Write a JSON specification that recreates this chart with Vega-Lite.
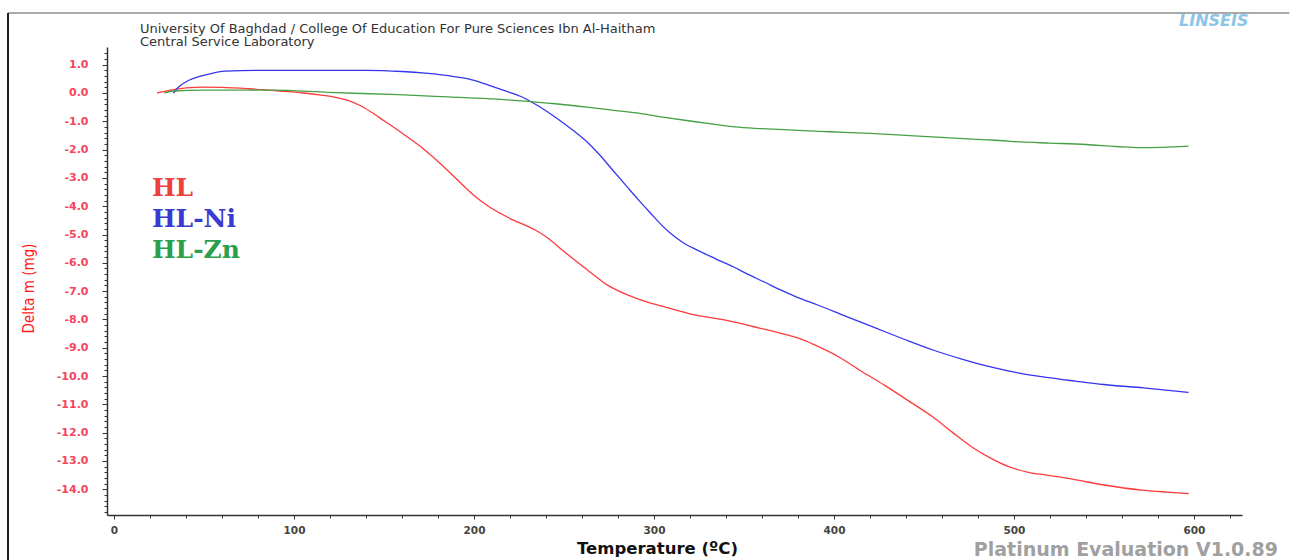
{
  "$schema": "https://vega.github.io/schema/vega-lite/v6.json",
  "width": 1135,
  "height": 468,
  "autosize": {"type": "none"},
  "padding": {"left": 107, "top": 47, "right": 48, "bottom": 45},
  "background": "white",
  "config": {"view": {"stroke": null}, "font": "DejaVu Sans"},
  "title": {
    "text": ["University Of Baghdad / College Of Education For Pure Sciences Ibn Al-Haitham", "Central Service Laboratory"],
    "anchor": "start",
    "frame": "group",
    "dx": 33,
    "dy": 40,
    "offset": 3,
    "fontSize": 13,
    "fontWeight": "normal",
    "font": "DejaVu Sans",
    "color": "#333333",
    "lineHeight": 13
  },
  "data": {
    "values": [
      {"s": "HL", "T": 24, "m": 0.0},
      {"s": "HL", "T": 30, "m": 0.08},
      {"s": "HL", "T": 40, "m": 0.18},
      {"s": "HL", "T": 50, "m": 0.21},
      {"s": "HL", "T": 60, "m": 0.2},
      {"s": "HL", "T": 75, "m": 0.15},
      {"s": "HL", "T": 92, "m": 0.07},
      {"s": "HL", "T": 105, "m": 0.0},
      {"s": "HL", "T": 114, "m": -0.07},
      {"s": "HL", "T": 122, "m": -0.14},
      {"s": "HL", "T": 130, "m": -0.26},
      {"s": "HL", "T": 137, "m": -0.45},
      {"s": "HL", "T": 143, "m": -0.68},
      {"s": "HL", "T": 150, "m": -0.98},
      {"s": "HL", "T": 157, "m": -1.28},
      {"s": "HL", "T": 164, "m": -1.6},
      {"s": "HL", "T": 172, "m": -1.98},
      {"s": "HL", "T": 180, "m": -2.42},
      {"s": "HL", "T": 190, "m": -3.02},
      {"s": "HL", "T": 200, "m": -3.62},
      {"s": "HL", "T": 208, "m": -4.0},
      {"s": "HL", "T": 219, "m": -4.4},
      {"s": "HL", "T": 234, "m": -4.84},
      {"s": "HL", "T": 241, "m": -5.12},
      {"s": "HL", "T": 250, "m": -5.6},
      {"s": "HL", "T": 263, "m": -6.25},
      {"s": "HL", "T": 274, "m": -6.78},
      {"s": "HL", "T": 287, "m": -7.18},
      {"s": "HL", "T": 296, "m": -7.38},
      {"s": "HL", "T": 305, "m": -7.54},
      {"s": "HL", "T": 320, "m": -7.8},
      {"s": "HL", "T": 339, "m": -8.02},
      {"s": "HL", "T": 355, "m": -8.25},
      {"s": "HL", "T": 370, "m": -8.48},
      {"s": "HL", "T": 381, "m": -8.68},
      {"s": "HL", "T": 392, "m": -8.98},
      {"s": "HL", "T": 402, "m": -9.3},
      {"s": "HL", "T": 415, "m": -9.82},
      {"s": "HL", "T": 428, "m": -10.32},
      {"s": "HL", "T": 441, "m": -10.86},
      {"s": "HL", "T": 455, "m": -11.45},
      {"s": "HL", "T": 466, "m": -12.0},
      {"s": "HL", "T": 476, "m": -12.48},
      {"s": "HL", "T": 487, "m": -12.9},
      {"s": "HL", "T": 497, "m": -13.2},
      {"s": "HL", "T": 508, "m": -13.4},
      {"s": "HL", "T": 518, "m": -13.5},
      {"s": "HL", "T": 533, "m": -13.65},
      {"s": "HL", "T": 550, "m": -13.85},
      {"s": "HL", "T": 571, "m": -14.03},
      {"s": "HL", "T": 585, "m": -14.1},
      {"s": "HL", "T": 597, "m": -14.15},
      {"s": "HL-Ni", "T": 33, "m": 0.0},
      {"s": "HL-Ni", "T": 36, "m": 0.22},
      {"s": "HL-Ni", "T": 42, "m": 0.46},
      {"s": "HL-Ni", "T": 51, "m": 0.64},
      {"s": "HL-Ni", "T": 62, "m": 0.77},
      {"s": "HL-Ni", "T": 80, "m": 0.8},
      {"s": "HL-Ni", "T": 140, "m": 0.8},
      {"s": "HL-Ni", "T": 160, "m": 0.76},
      {"s": "HL-Ni", "T": 173, "m": 0.7},
      {"s": "HL-Ni", "T": 189, "m": 0.58},
      {"s": "HL-Ni", "T": 200, "m": 0.45},
      {"s": "HL-Ni", "T": 208, "m": 0.28},
      {"s": "HL-Ni", "T": 217, "m": 0.08},
      {"s": "HL-Ni", "T": 227, "m": -0.15},
      {"s": "HL-Ni", "T": 236, "m": -0.47},
      {"s": "HL-Ni", "T": 246, "m": -0.89},
      {"s": "HL-Ni", "T": 255, "m": -1.32},
      {"s": "HL-Ni", "T": 264, "m": -1.8},
      {"s": "HL-Ni", "T": 270, "m": -2.2},
      {"s": "HL-Ni", "T": 277, "m": -2.72},
      {"s": "HL-Ni", "T": 285, "m": -3.31},
      {"s": "HL-Ni", "T": 291, "m": -3.75},
      {"s": "HL-Ni", "T": 298, "m": -4.24},
      {"s": "HL-Ni", "T": 304, "m": -4.65},
      {"s": "HL-Ni", "T": 309, "m": -4.95},
      {"s": "HL-Ni", "T": 316, "m": -5.28},
      {"s": "HL-Ni", "T": 324, "m": -5.55},
      {"s": "HL-Ni", "T": 334, "m": -5.85},
      {"s": "HL-Ni", "T": 344, "m": -6.14},
      {"s": "HL-Ni", "T": 352, "m": -6.4},
      {"s": "HL-Ni", "T": 361, "m": -6.67},
      {"s": "HL-Ni", "T": 370, "m": -6.95},
      {"s": "HL-Ni", "T": 379, "m": -7.2},
      {"s": "HL-Ni", "T": 391, "m": -7.49},
      {"s": "HL-Ni", "T": 407, "m": -7.9},
      {"s": "HL-Ni", "T": 423, "m": -8.3},
      {"s": "HL-Ni", "T": 439, "m": -8.7},
      {"s": "HL-Ni", "T": 455, "m": -9.08},
      {"s": "HL-Ni", "T": 471, "m": -9.4},
      {"s": "HL-Ni", "T": 487, "m": -9.68},
      {"s": "HL-Ni", "T": 503, "m": -9.9},
      {"s": "HL-Ni", "T": 518, "m": -10.05},
      {"s": "HL-Ni", "T": 534, "m": -10.18},
      {"s": "HL-Ni", "T": 550, "m": -10.3},
      {"s": "HL-Ni", "T": 572, "m": -10.42},
      {"s": "HL-Ni", "T": 597, "m": -10.58},
      {"s": "HL-Zn", "T": 28, "m": 0.0},
      {"s": "HL-Zn", "T": 33, "m": 0.07},
      {"s": "HL-Zn", "T": 50, "m": 0.1},
      {"s": "HL-Zn", "T": 88, "m": 0.1},
      {"s": "HL-Zn", "T": 119, "m": 0.02},
      {"s": "HL-Zn", "T": 158, "m": -0.06},
      {"s": "HL-Zn", "T": 186, "m": -0.14},
      {"s": "HL-Zn", "T": 213, "m": -0.22},
      {"s": "HL-Zn", "T": 224, "m": -0.27},
      {"s": "HL-Zn", "T": 245, "m": -0.38},
      {"s": "HL-Zn", "T": 263, "m": -0.5},
      {"s": "HL-Zn", "T": 280, "m": -0.63},
      {"s": "HL-Zn", "T": 292, "m": -0.72},
      {"s": "HL-Zn", "T": 305, "m": -0.85},
      {"s": "HL-Zn", "T": 320, "m": -0.99},
      {"s": "HL-Zn", "T": 335, "m": -1.12},
      {"s": "HL-Zn", "T": 345, "m": -1.2},
      {"s": "HL-Zn", "T": 360, "m": -1.26},
      {"s": "HL-Zn", "T": 380, "m": -1.32},
      {"s": "HL-Zn", "T": 398, "m": -1.37},
      {"s": "HL-Zn", "T": 420, "m": -1.43},
      {"s": "HL-Zn", "T": 440, "m": -1.5},
      {"s": "HL-Zn", "T": 460, "m": -1.57},
      {"s": "HL-Zn", "T": 477, "m": -1.63},
      {"s": "HL-Zn", "T": 490, "m": -1.67},
      {"s": "HL-Zn", "T": 504, "m": -1.73},
      {"s": "HL-Zn", "T": 520, "m": -1.77},
      {"s": "HL-Zn", "T": 540, "m": -1.82},
      {"s": "HL-Zn", "T": 557, "m": -1.89},
      {"s": "HL-Zn", "T": 570, "m": -1.93},
      {"s": "HL-Zn", "T": 582, "m": -1.92},
      {"s": "HL-Zn", "T": 597, "m": -1.88}
    ]
  },
  "layer": [
    {
      "mark": {"type": "line", "strokeWidth": 1.3, "interpolate": "monotone", "clip": true},
      "encoding": {
        "x": {
          "field": "T", "type": "quantitative",
          "scale": {"domain": [-3.9, 626.7], "nice": false, "zero": false},
          "axis": {
            "orient": "bottom",
            "values": [0, 100, 200, 300, 400, 500, 600],
            "grid": false,
            "domainColor": "#333333", "domainWidth": 1.5,
            "tickColor": "#333333", "tickSize": 4, "tickWidth": 1,
            "labelPadding": 6, "labelFontSize": 10.5, "labelFontWeight": "bold", "labelColor": "#444444",
            "labelFont": "DejaVu Sans",
            "title": "Temperature (ºC)",
            "titleFont": "DejaVu Sans", "titleFontSize": 16.5, "titleFontWeight": 600, "titleColor": "#111111",
            "titleX": 550, "titleY": 33, "titleBaseline": "middle", "titleAlign": "center"
          }
        },
        "y": {
          "field": "m", "type": "quantitative",
          "scale": {"domain": [-14.91, 1.625], "nice": false, "zero": false},
          "axis": {
            "orient": "left",
            "values": [-14, -13, -12, -11, -10, -9, -8, -7, -6, -5, -4, -3, -2, -1, 0, 1],
            "labelExpr": "replace(format(datum.value, '.1f'), '\u2212', '-')",
            "grid": false,
            "domainColor": "#333333", "domainWidth": 1.5,
            "tickColor": "#333333", "tickSize": 5, "tickWidth": 1,
            "labelPadding": 14, "labelFontSize": 11, "labelFontWeight": "bold", "labelColor": "#f5455c",
            "labelFont": "DejaVu Sans",
            "title": "Delta m (mg)",
            "titleFont": "DejaVu Sans Condensed", "titleFontSize": 15, "titleFontWeight": "normal", "titleColor": "#ff1a1a",
            "titleX": -79, "titleY": 241, "titleAngle": -90, "titleBaseline": "middle", "titleAlign": "center"
          }
        },
        "color": {
          "field": "s", "type": "nominal",
          "scale": {"domain": ["HL", "HL-Ni", "HL-Zn"], "range": ["#ff3a3a", "#3535f0", "#45a045"]},
          "legend": {
            "orient": "none", "legendX": 20, "legendY": 128,
            "title": null,
            "symbolSize": 0, "symbolStrokeWidth": 0, "symbolOpacity": 0, "labelOffset": 0,
            "labelFont": "DejaVu Serif", "labelFontSize": 25, "labelFontWeight": "bold",
            "rowPadding": 5,
            "encode": {
              "labels": {
                "update": {
                  "fill": {"signal": "datum.value === 'HL' ? '#ee3f3f' : datum.value === 'HL-Ni' ? '#3a3ad2' : '#2c9e4c'"}
                }
              }
            }
          }
        }
      }
    },
    {
      "data": {"values": [{"a": 1}]},
      "mark": {"type": "rule", "opacity": 0},
      "encoding": {
        "x": {
          "datum": 0, "type": "quantitative",
          "scale": {"domain": [-3.9, 626.7], "nice": false, "zero": false},
          "axis": {
            "orient": "bottom",
            "values": [20, 40, 60, 80, 120, 140, 160, 180, 220, 240, 260, 280, 320, 340, 360, 380, 420, 440, 460, 480, 520, 540, 560, 580, 620],
            "labels": false, "domain": false, "grid": false, "title": null,
            "tickColor": "#333333", "tickSize": 3, "tickWidth": 1
          }
        },
        "y": {
          "datum": 0, "type": "quantitative",
          "scale": {"domain": [-14.91, 1.625], "nice": false, "zero": false},
          "axis": {
            "orient": "left",
            "values": [-14.8, -14.6, -14.4, -14.2, -13.8, -13.6, -13.4, -13.2, -12.8, -12.6, -12.4, -12.2, -11.8, -11.6, -11.4, -11.2, -10.8, -10.6, -10.4, -10.2, -9.8, -9.6, -9.4, -9.2, -8.8, -8.6, -8.4, -8.2, -7.8, -7.6, -7.4, -7.2, -6.8, -6.6, -6.4, -6.2, -5.8, -5.6, -5.4, -5.2, -4.8, -4.6, -4.4, -4.2, -3.8, -3.6, -3.4, -3.2, -2.8, -2.6, -2.4, -2.2, -1.8, -1.6, -1.4, -1.2, -0.8, -0.6, -0.4, -0.2, 0.2, 0.4, 0.6, 0.8, 1.2, 1.4],
            "labels": false, "domain": false, "grid": false, "title": null,
            "tickColor": "#333333", "tickSize": 3, "tickWidth": 1
          }
        }
      }
    },
    {
      "data": {"values": [{"a": 1}]},
      "mark": {"type": "rule", "color": "#aaaaaa", "strokeWidth": 2, "clip": false},
      "encoding": {
        "x": {"datum": -58.9, "type": "quantitative", "axis": null},
        "x2": {"datum": 653},
        "y": {"datum": 2.83, "type": "quantitative", "axis": null}
      }
    },
    {
      "data": {"values": [{"a": 1}]},
      "mark": {"type": "rule", "color": "#222222", "strokeWidth": 2, "clip": false},
      "encoding": {
        "x": {"datum": -58.9, "type": "quantitative", "axis": null},
        "y": {"datum": 2.83, "type": "quantitative", "axis": null},
        "y2": {"datum": -16.6}
      }
    },
    {
      "data": {"values": [{"a": 1}]},
      "mark": {"type": "text", "text": "Platinum Evaluation V1.0.89", "align": "right", "baseline": "middle", "font": "DejaVu Sans", "fontSize": 19, "fontWeight": "bold", "color": "#a0a0a0", "clip": false},
      "encoding": {
        "x": {"datum": 646.7, "type": "quantitative", "axis": null},
        "y": {"datum": -16.15, "type": "quantitative", "axis": null}
      }
    },
    {
      "data": {"values": [{"a": 1}]},
      "mark": {"type": "text", "text": "LINSEIS", "align": "center", "baseline": "middle", "font": "DejaVu Sans", "fontSize": 16, "fontWeight": "bold", "fontStyle": "italic", "color": "#8cc4e8", "clip": false},
      "encoding": {
        "x": {"datum": 611, "type": "quantitative", "axis": null},
        "y": {"datum": 2.55, "type": "quantitative", "axis": null}
      }
    }
  ],
  "resolve": {"axis": {"x": "independent", "y": "independent"}}
}
